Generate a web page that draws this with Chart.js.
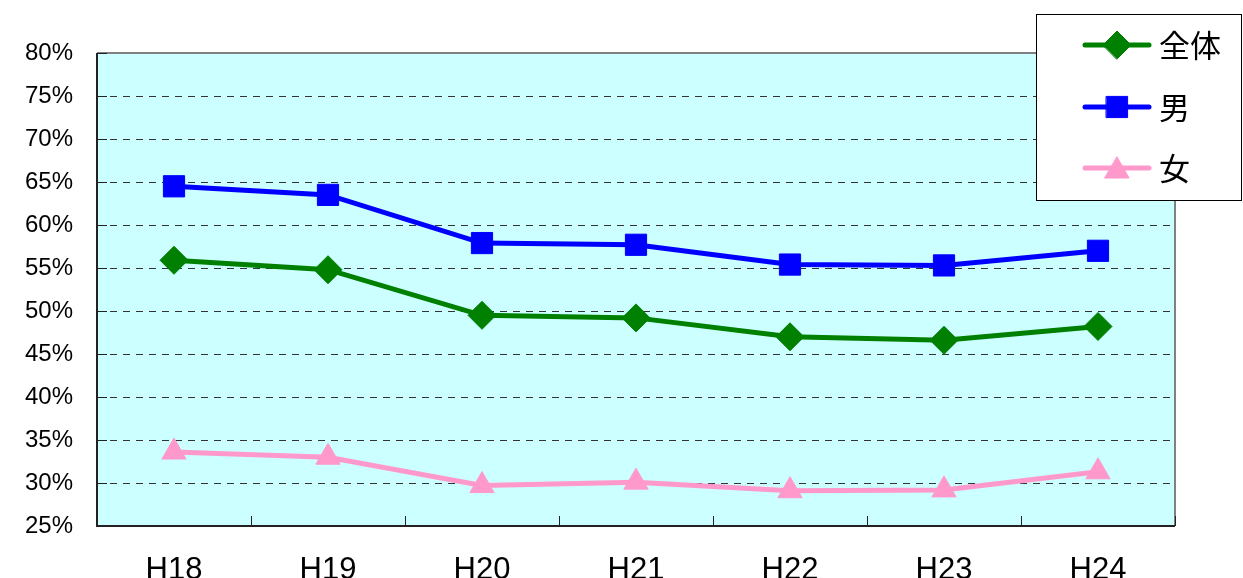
<!DOCTYPE html>
<html>
<head>
<meta charset="utf-8">
<script src="https://cdn.jsdelivr.net/npm/chart.js@4"></script>
<style>
  body { margin: 0; background: #fff; }
  #wrap { width: 1243px; height: 578px; }
</style>
</head>
<body>
<div id="wrap"><canvas id="chart" width="1243" height="578"></canvas></div>
<script>
const years = ['H18', 'H19', 'H20', 'H21', 'H22', 'H23', 'H24'];
const total = [55.9, 54.8, 49.5, 49.2, 47.0, 46.6, 48.2];
const male = [64.5, 63.5, 57.9, 57.7, 55.4, 55.3, 57.0];
const female = [33.6, 33.0, 29.7, 30.1, 29.1, 29.2, 31.3];

const plotDeco = {
  id: 'plotDeco',
  beforeDatasetsDraw(chart) {
    const { ctx, chartArea: a } = chart;
    ctx.save();
    ctx.fillStyle = '#ccffff';
    ctx.fillRect(a.left, a.top, a.right - a.left, a.bottom - a.top);
    // dashed grid
    const y = chart.scales.y;
    ctx.strokeStyle = '#333';
    ctx.lineWidth = 1;
    ctx.setLineDash([7, 6]);
    for (let v = 30; v < 80; v += 5) {
      const py = Math.round(y.getPixelForValue(v)) + 0.5;
      ctx.beginPath();
      ctx.moveTo(a.left, py);
      ctx.lineTo(a.right, py);
      ctx.stroke();
    }
    ctx.setLineDash([]);
    // gray top/right border
    ctx.strokeStyle = '#808080';
    ctx.lineWidth = 2;
    ctx.beginPath();
    ctx.moveTo(a.left, a.top);
    ctx.lineTo(a.right, a.top);
    ctx.lineTo(a.right, a.bottom);
    ctx.stroke();
    // left / bottom axes
    ctx.strokeStyle = '#222';
    ctx.beginPath();
    ctx.moveTo(a.left, a.top);
    ctx.lineTo(a.left, a.bottom);
    ctx.lineTo(a.right, a.bottom);
    ctx.stroke();
    // small ticks
    ctx.lineWidth = 1;
    for (let v = 25; v <= 80; v += 5) {
      const py = Math.round(y.getPixelForValue(v)) + 0.5;
      ctx.beginPath();
      ctx.moveTo(a.left, py);
      ctx.lineTo(a.left + 10, py);
      ctx.stroke();
    }
    const x = chart.scales.x;
    const step = x.getPixelForValue(1) - x.getPixelForValue(0);
    for (let i = 0; i < years.length; i++) {
      const px = Math.round(x.getPixelForValue(i) + step / 2) + 0.5;
      ctx.beginPath();
      ctx.moveTo(px, a.bottom);
      ctx.lineTo(px, a.bottom - 10);
      ctx.stroke();
    }
    ctx.restore();
  }
};

const boxLegend = {
  id: 'boxLegend',
  afterDraw(chart) {
    const ctx = chart.ctx;
    const bx = 1036, by = 14, bw = 205, bh = 186;
    ctx.save();
    ctx.fillStyle = '#fff';
    ctx.fillRect(bx, by, bw, bh);
    ctx.strokeStyle = '#000';
    ctx.lineWidth = 1;
    ctx.strokeRect(bx + 0.5, by + 0.5, bw, bh);
    const rows = [45, 107, 168];
    chart.data.datasets.forEach((ds, i) => {
      const cy = rows[i];
      ctx.strokeStyle = ds.borderColor;
      ctx.fillStyle = ds.borderColor;
      ctx.lineWidth = 5;
      ctx.lineCap = 'round';
      ctx.beginPath();
      ctx.moveTo(1085, cy);
      ctx.lineTo(1149, cy);
      ctx.stroke();
      ctx.lineWidth = 1;
      Chart.helpers.drawPoint(ctx, {
        pointStyle: ds.pointStyle,
        radius: ds.pointRadius,
        borderWidth: 1
      }, 1117, ds.pointStyle === 'triangle' ? cy + 3 : cy);
      ctx.fillStyle = '#000';
      ctx.font = '31px "Noto Sans CJK JP"';
      ctx.textBaseline = 'middle';
      ctx.fillText(ds.label, 1159, cy);
    });
    ctx.restore();
  }
};

function pointCfg(color, style, r) {
  return {
    borderColor: color,
    backgroundColor: color,
    pointBackgroundColor: color,
    pointBorderColor: color,
    pointStyle: style,
    pointRadius: r,
    pointBorderWidth: 1,
    borderWidth: 5,
    tension: 0
  };
}

new Chart(document.getElementById('chart').getContext('2d'), {
  type: 'line',
  data: {
    labels: years,
    datasets: [
      Object.assign({ label: '全体', data: total }, pointCfg('#008000', 'rectRot', 14)),
      Object.assign({ label: '男', data: male }, pointCfg('#0000ff', 'rect', 15)),
      Object.assign({ label: '女', data: female }, pointCfg('#ff99cc', 'triangle', 14))
    ]
  },
  options: {
    responsive: false,
    animation: false,
    layout: { padding: { top: 53, right: 68, left: 0, bottom: 0 } },
    plugins: {
      legend: { display: false },
      tooltip: { enabled: false }
    },
    scales: {
      x: {
        offset: true,
        grid: { display: false, drawTicks: false },
        border: { display: false },
        ticks: {
          padding: 26,
          color: '#000',
          font: { family: '"Liberation Sans", Arial, sans-serif', size: 31 }
        },
        afterFit(scale) { scale.height = 52; }
      },
      y: {
        min: 25,
        max: 80,
        grid: { display: false, drawTicks: false },
        border: { display: false },
        ticks: {
          stepSize: 5,
          padding: 24,
          color: '#000',
          font: { family: '"Liberation Sans", Arial, sans-serif', size: 24 },
          callback: v => v + '%'
        },
        afterFit(scale) { scale.width = 97; }
      }
    }
  },
  plugins: [plotDeco, boxLegend]
});
</script>
</body>
</html>
